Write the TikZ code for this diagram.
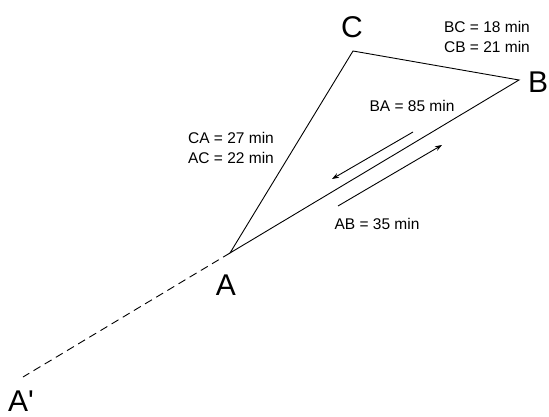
\documentclass[tikz,border=0pt]{standalone}
\usepackage{fontspec}
\setmainfont{Liberation Sans}
\usetikzlibrary{arrows.meta}
\begin{document}
\begin{tikzpicture}[x=1pt,y=-1pt,
  edge/.style={draw=black,line width=0.9pt},
  dashedge/.style={draw=black,line width=0.9pt,dash pattern=on 8pt off 5pt},
  flow/.style={draw=black,line width=0.9pt,-{Stealth[length=7pt,width=5pt]}},
  vlabel/.style={font=\fontsize{30}{32}\selectfont,inner sep=0pt},
  tlabel/.style={font=\fontsize{15.5}{20}\selectfont,inner sep=0pt,align=center}]
\useasboundingbox (0,0) rectangle (549,417);
\coordinate (A) at (230,253);
\coordinate (B) at (519,80);
\coordinate (C) at (353,51);
\coordinate (Ap) at (23,377);
\draw[edge] (A) -- (C) -- (B) -- cycle;
\draw[dashedge] (A) -- (Ap);
\coordinate (ba1) at (413,132);
\coordinate (ba2) at (332,179);
\coordinate (ab1) at (338,206);
\coordinate (ab2) at (442,145);
\draw[flow] (ba1) -- (ba2);
\draw[flow] (ab1) -- (ab2);
\node[vlabel] (lC) at (352,27) {C};
\node[vlabel] (lB) at (538,82) {B};
\node[vlabel] (lA) at (226,285) {A};
\node[vlabel] (lAp) at (21,401) {A\textquotesingle};
\node[tlabel] (tBC) at (487,37) {BC = 18 min\\CB = 21 min};
\node[tlabel] (tCA) at (231,148) {CA = 27 min\\AC = 22 min};
\node[tlabel] (tBA) at (412,106) {BA = 85 min};
\node[tlabel] (tAB) at (377,224) {AB = 35 min};
\end{tikzpicture}
\end{document}
